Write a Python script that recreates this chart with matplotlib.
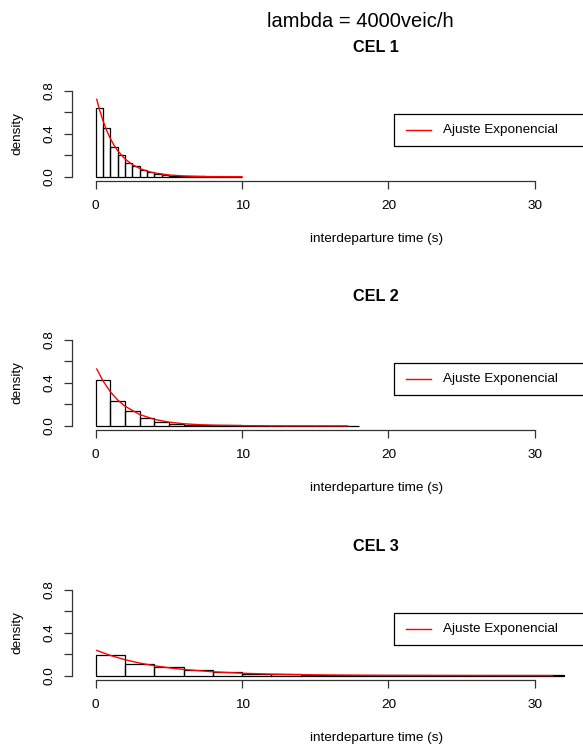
import matplotlib
matplotlib.use("Agg")
import matplotlib.pyplot as plt
from matplotlib.patches import Rectangle
from matplotlib.lines import Line2D
import numpy as np

plt.rcParams['font.family'] = ['Liberation Sans', 'DejaVu Sans']

# ---------------- data ----------------
main_title = "lambda = 4000veic/h"
panel_titles = ["CEL 1", "CEL 2", "CEL 3"]
x_label = "interdeparture time (s)"
y_label = "density"
legend_label = "Ajuste Exponencial"
x_ticks = [0, 10, 20, 30]
y_ticks = [0.0, 0.2, 0.4, 0.6, 0.8]
y_tick_labels = ["0.0", "", "0.4", "", "0.8"]

cel1_bin_width = 0.5
cel1_density = [0.640, 0.449, 0.278, 0.204, 0.127, 0.102, 0.062, 0.041, 0.025, 0.016,
                0.010, 0.007, 0.005, 0.004, 0.003, 0.002, 0.002, 0.001, 0.001, 0.001]
cel1_fit_x = [0.07, 0.25, 0.5, 0.75, 1.0, 1.25, 1.5, 2.0, 2.5, 3.0, 3.5, 4.0, 5.0, 6.0, 7.0, 8.0, 10.0]
cel1_fit_y = [0.720, 0.628, 0.520, 0.430, 0.355, 0.294, 0.243, 0.166, 0.114, 0.078, 0.053,
              0.036, 0.017, 0.008, 0.0037, 0.0017, 0.0004]

cel2_bin_width = 1.0
cel2_density = [0.427, 0.234, 0.140, 0.075, 0.037, 0.022, 0.013, 0.008, 0.006, 0.004,
                0.003, 0.002, 0.002, 0.001, 0.001, 0.001, 0.001, 0.001]
cel2_fit_x = [0.07, 0.5, 1.0, 1.5, 2.0, 3.0, 4.0, 5.0, 6.0, 7.0, 8.0, 10.0, 12.0, 14.0, 17.2]
cel2_fit_y = [0.529, 0.418, 0.317, 0.241, 0.183, 0.106, 0.061, 0.035, 0.020, 0.0117, 0.0068,
              0.0023, 0.0007, 0.0003, 0.00004]

cel3_bin_width = 2.0
cel3_density = [0.187, 0.112, 0.084, 0.050, 0.035, 0.019, 0.012, 0.008, 0.006, 0.004,
                0.003, 0.002, 0.0015, 0.001, 0.001, 0.001]
cel3_fit_x = [0.07, 1, 2, 3, 4, 5, 6, 8, 10, 12, 14, 16, 18, 20, 24, 28, 31.2]
cel3_fit_y = [0.234, 0.1876, 0.1479, 0.1165, 0.0919, 0.0724, 0.0571, 0.0354, 0.0220, 0.0137,
              0.0085, 0.0053, 0.0033, 0.0020, 0.0008, 0.0003, 0.0001]

panels = [
    (cel1_bin_width, cel1_density, cel1_fit_x, cel1_fit_y),
    (cel2_bin_width, cel2_density, cel2_fit_x, cel2_fit_y),
    (cel3_bin_width, cel3_density, cel3_fit_x, cel3_fit_y),
]

# ---------------- layout (pixels) ----------------
W, H = 583, 746
fig = plt.figure(figsize=(W / 100, H / 100), dpi=100)


def fx(px):
    return px / W


def fy(py):
    return 1 - py / H


zero_px = [176.8, 425.9, 675.6]
S = 107.6            # pixels per density unit
left_px, right_px = 72.3, 583.0
xlo, xhi = -1.6, 33.3
ylo_px_off = 4.0
ytop = 0.84

base_fs = 9.7

fig.text(fx(360), fy(26.7), main_title, ha='center', va='baseline', fontsize=14.5)

for i, (bw, dens, fitx, fity) in enumerate(panels):
    z = zero_px[i]
    bottom_px = z + ylo_px_off
    top_px = z - ytop * S
    ax = fig.add_axes([fx(left_px), fy(bottom_px), fx(right_px) - fx(left_px),
                       (bottom_px - top_px) / H])
    ax.set_xlim(xlo, xhi)
    ax.set_ylim(-ylo_px_off / S, ytop)
    ax.patch.set_visible(False)

    lefts = np.arange(len(dens)) * bw
    ax.bar(lefts, dens, width=bw, align='edge', fill=False,
           edgecolor='black', linewidth=0.9)
    ax.plot(fitx, fity, color='#FF0000', linewidth=1.0)

    for s in ('top', 'right'):
        ax.spines[s].set_visible(False)
    ax.spines['left'].set_bounds(0, 0.8)
    ax.spines['bottom'].set_bounds(0, 30)
    for s in ('left', 'bottom'):
        ax.spines[s].set_color('#333333')
        ax.spines[s].set_linewidth(0.9)

    ax.set_xticks(x_ticks)
    ax.set_xticklabels([str(t) for t in x_ticks])
    ax.set_yticks(y_ticks)
    ax.set_yticklabels(y_tick_labels)
    ax.tick_params(axis='both', direction='out', length=5.8, width=0.9,
                   color='#333333', labelsize=base_fs, labelcolor='black')
    ax.tick_params(axis='x', pad=8)
    ax.tick_params(axis='y', pad=6.5)
    plt.setp(ax.get_yticklabels(), rotation=90, va='center', ha='right')

    # panel title and axis labels
    fig.text(fx(375.6), fy(z - 124.8), panel_titles[i], ha='center', va='baseline',
             fontsize=11.7, fontweight='bold')
    fig.text(fx(376.7), fy(z + 65.2), x_label, ha='center', va='baseline', fontsize=base_fs)
    fig.text(fx(17.0), fy(z - 43.0), y_label, ha='center', va='center', rotation=90,
             fontsize=base_fs)

    # legend box (extends past figure edge, as in the reference)
    box = Rectangle((fx(394.3), fy(z - 30.8)), fx(700) - fx(394.3), (63.1 - 30.8) / H,
                    transform=fig.transFigure, fill=False, edgecolor='black',
                    linewidth=0.9, clip_on=False)
    fig.patches.append(box)
    ly = fy(z - 46.9)
    fig.lines.append(Line2D([fx(406), fx(430.7)], [ly, ly], transform=fig.transFigure,
                            color='#FF0000', linewidth=1.0))
    fig.text(fx(442.7), ly, legend_label, ha='left', va='center', fontsize=base_fs)

fig.savefig("out.png", dpi=100)
